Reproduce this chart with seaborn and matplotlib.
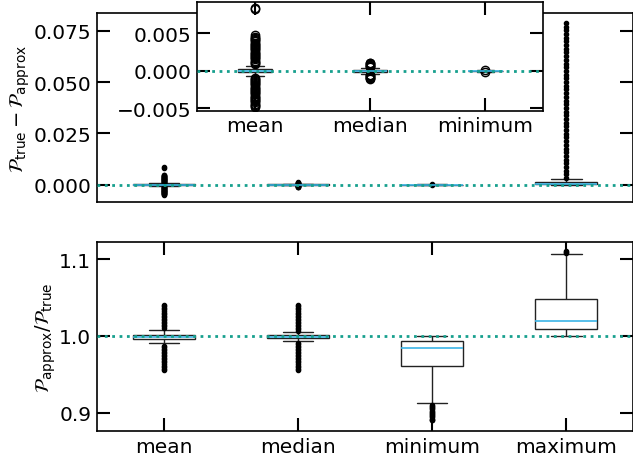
import numpy as np
import pandas as pd
import seaborn as sns
from matplotlib import pyplot as plt

categories = ['mean', 'median', 'minimum', 'maximum']

# upper panel: P_true - P_approx  (box summary)
diff_whislo = [-0.0007, -0.0003, -0.0001, 0.0]
diff_q1 = [-0.0002, -0.0001, -0.00003, 0.0001]
diff_med = [0.0, 0.0, 0.0, 0.0005]
diff_q3 = [0.0002, 0.0001, 0.00003, 0.0013]
diff_whishi = [0.0007, 0.0003, 0.0001, 0.0028]
diff_out_mean = [0.0009, 0.00105, 0.0012, 0.00135, 0.0015, 0.00165, 0.0018, 0.00195, 0.0021,
                 0.00225, 0.0024, 0.00255, 0.0027, 0.00285, 0.0030, 0.00315, 0.0033, 0.00345,
                 0.0036, 0.00375, 0.0039, 0.00405, 0.0042, 0.00435, 0.0045, 0.0047,
                 0.0082, 0.0084,
                 -0.0009, -0.00105, -0.0012, -0.00135, -0.0015, -0.00165, -0.0018, -0.00195,
                 -0.0021, -0.00225, -0.0024, -0.00255, -0.0027, -0.00285, -0.0030, -0.00315,
                 -0.0033, -0.00345, -0.0036, -0.00375, -0.0039, -0.00405, -0.0042, -0.00435,
                 -0.0045, -0.0047, -0.0048]
diff_out_median = [0.0004, 0.0005, 0.0006, 0.0007, 0.0008, 0.0009, 0.0010, 0.0011,
                   -0.0004, -0.0005, -0.0006, -0.0007, -0.0008, -0.0009, -0.0010, -0.0011]
diff_out_minimum = [0.00015, -0.00015]
diff_out_maximum = [0.0033, 0.0050, 0.0068, 0.0086, 0.0104, 0.0122, 0.0140, 0.0158, 0.0176,
                    0.0194, 0.0212, 0.0230, 0.0248, 0.0266, 0.0284, 0.0302, 0.0320, 0.0338,
                    0.0356, 0.0374, 0.0392, 0.0410, 0.0428, 0.0446, 0.0464, 0.0482, 0.0500,
                    0.0518, 0.0536, 0.0554, 0.0572, 0.0590, 0.0608, 0.0626, 0.0644, 0.0662,
                    0.0680, 0.0698, 0.0716, 0.0734, 0.0752, 0.0770, 0.0788]

# lower panel: P_approx / P_true
ratio_whislo = [0.991, 0.9932, 0.9125, 1.000]
ratio_q1 = [0.9966, 0.9976, 0.9605, 1.0086]
ratio_med = [0.999, 0.999, 0.985, 1.0199]
ratio_q3 = [1.0016, 1.0008, 0.993, 1.048]
ratio_whishi = [1.0073, 1.005, 1.000, 1.1065]
ratio_out_mean = [1.0105, 1.0125, 1.0145, 1.0165, 1.0185, 1.0205, 1.0225, 1.0245, 1.0265,
                  1.0285, 1.0305, 1.0325, 1.0345, 1.0365, 1.0385, 1.0405,
                  0.9875, 0.9855, 0.9835, 0.9815, 0.9795, 0.9775, 0.9755, 0.9735, 0.9715,
                  0.9695, 0.9675, 0.9655, 0.9635, 0.9615, 0.9595, 0.9575, 0.9555]
ratio_out_median = [1.0065, 1.0085, 1.0105, 1.0125, 1.0145, 1.0165, 1.0185, 1.0205, 1.0225,
                    1.0245, 1.0265, 1.0285, 1.0305, 1.0325, 1.0345, 1.0365, 1.0385, 1.0400,
                    0.9915, 0.9895, 0.9875, 0.9855, 0.9835, 0.9815, 0.9795, 0.9775, 0.9755,
                    0.9735, 0.9715, 0.9695, 0.9675, 0.9655, 0.9635, 0.9615, 0.9595, 0.9575,
                    0.9555]
ratio_out_minimum = [0.9105, 0.909, 0.9075, 0.906, 0.9045, 0.903, 0.9015, 0.900, 0.8985,
                     0.897, 0.8955, 0.894, 0.8925, 0.891, 0.8905]
ratio_out_maximum = [1.108, 1.109, 1.110]


def long_frame(whislo, q1, med, q3, whishi, outliers, m=200):
    # rebuild a sample whose quartiles / whiskers match the read-off summary
    rows = []
    for i, cat in enumerate(categories):
        vals = [whislo[i]] + [q1[i]] * m + [med[i]] * m + [q3[i]] * m + [whishi[i]] + list(outliers[i])
        rows += [(cat, v) for v in vals]
    return pd.DataFrame(rows, columns=['stat', 'value'])


df_diff = long_frame(diff_whislo, diff_q1, diff_med, diff_q3, diff_whishi,
                     [diff_out_mean, diff_out_median, diff_out_minimum, diff_out_maximum])
df_ratio = long_frame(ratio_whislo, ratio_q1, ratio_med, ratio_q3, ratio_whishi,
                      [ratio_out_mean, ratio_out_median, ratio_out_minimum, ratio_out_maximum])
df_inset = df_diff[df_diff['stat'] != 'maximum']

sns.set_style('white')
plt.rcParams['font.family'] = ['DejaVu Sans']
plt.rcParams['text.color'] = 'k'
plt.rcParams['axes.labelcolor'] = 'k'
plt.rcParams['xtick.color'] = 'k'
plt.rcParams['ytick.color'] = 'k'

median_col = '#3bb4e6'
line_col = '#17a08e'
edge_col = '#222222'

box_kw = dict(x='stat', y='value', color='white', linecolor=edge_col, linewidth=1.0,
              medianprops=dict(color=median_col, linewidth=1.2))
dot_fliers = dict(marker='.', markerfacecolor='k', markeredgecolor='k', markersize=6)

fig = plt.figure(figsize=(6.33, 4.6), dpi=100)
ax_top = fig.add_axes([0.1532, 0.558, 0.847, 0.411])
ax_bot = fig.add_axes([0.1532, 0.0602, 0.847, 0.412])
ax_in = fig.add_axes([0.3117, 0.7572, 0.546, 0.2357])

sns.boxplot(data=df_diff, ax=ax_top, width=0.46, flierprops=dot_fliers, **box_kw)
sns.boxplot(data=df_ratio, ax=ax_bot, width=0.46, flierprops=dot_fliers, **box_kw)
sns.boxplot(data=df_inset, ax=ax_in, width=0.3,
            flierprops=dict(marker='o', markerfacecolor='none', markeredgecolor='k',
                            markersize=6, markeredgewidth=1.0), **box_kw)

ax_top.axhline(0, color=line_col, ls=':', lw=2, zorder=5)
ax_in.axhline(0, color=line_col, ls=':', lw=2, zorder=5)
ax_bot.axhline(1, color=line_col, ls=':', lw=2, zorder=5)

ax_top.set_xlim(-0.5, 3.5)
ax_bot.set_xlim(-0.5, 3.5)
ax_in.set_xlim(-0.5, 2.5)
ax_top.set_ylim(-0.0086, 0.0835)
ax_bot.set_ylim(0.876, 1.1225)
ax_in.set_ylim(-0.0053, 0.0091)

ax_top.set_yticks([0.0, 0.025, 0.05, 0.075])
ax_bot.set_yticks([0.9, 1.0, 1.1])
ax_in.set_yticks([-0.005, 0.0, 0.005])

for ax in [ax_top, ax_bot, ax_in]:
    ax.set_xlabel('')
    ax.set_ylabel('')
    for s in ax.spines.values():
        s.set_visible(True)
        s.set_color('k')
        s.set_linewidth(1.2)
    ax.tick_params(direction='in', length=9.5, width=1.5, labelsize=14.5,
                   left=True, right=True, top=True, bottom=True, pad=4)

ax_top.tick_params(axis='x', top=False, bottom=False, labelbottom=False)

ax_top.set_ylabel(r'$\mathcal{P}_{\rm true} - \mathcal{P}_{\rm approx}$', fontsize=14, labelpad=1)
ax_bot.set_ylabel(r'$\mathcal{P}_{\rm approx}/\mathcal{P}_{\rm true}$', fontsize=14, labelpad=1)
fig.align_ylabels([ax_top, ax_bot])

plt.savefig('out.png', dpi=100)
